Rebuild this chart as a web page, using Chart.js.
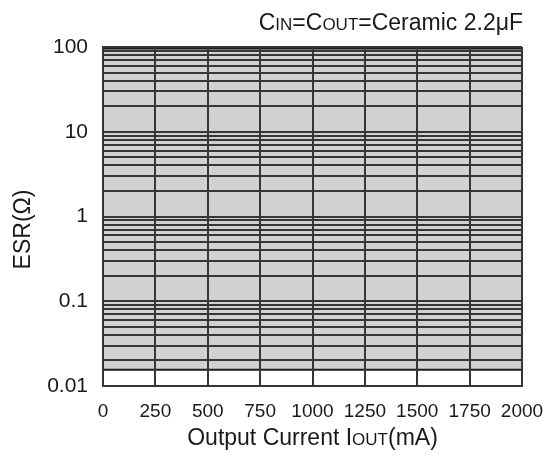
<!DOCTYPE html>
<html>
<head>
<meta charset="utf-8">
<script src="https://cdn.jsdelivr.net/npm/chart.js@4/dist/chart.umd.min.js"></script>
<style>
    html, body { margin: 0; padding: 0; background: #fff; }
</style>
</head>
<body>
<canvas id="esrChart" width="545" height="456"></canvas>
<script>
// stable region bounds
const currentMA = [0, 2000];
const esrUpper = [100, 100];
const esrLower = [0.016, 0.016];
// the two small square marks near the left edge
const markX = [10, 10];
const markY = [86, 0.081];
// axis ticks
const xTicks = [0, 250, 500, 750, 1000, 1250, 1500, 1750, 2000];
const yDecades = [0.01, 0.1, 1, 10, 100];
const yDecadeLabels = ["0.01", "0.1", "1", "10", "100"];
const yMinorSteps = [1, 2, 3, 4, 5, 6, 7, 8, 9];

const FONT = "'Liberation Sans', Arial, sans-serif";
const GRID = '#363636';
const FILL = '#d1d1d3';

// text with small-cap subscripts, drawn left to right from a start point
function drawRuns(ctx, runs, x, y, align, size) {
    var total = 0;
    runs.forEach(function (r) {
        ctx.font = (r.small ? Math.round(size * 0.74) : size) + 'px ' + FONT;
        r.w = ctx.measureText(r.t).width;
        total += r.w;
    });
    var cx = align == 'right' ? x - total : (align == 'center' ? x - total / 2 : x);
    ctx.textAlign = 'left';
    ctx.textBaseline = 'alphabetic';
    runs.forEach(function (r) {
        ctx.font = (r.small ? Math.round(size * 0.74) : size) + 'px ' + FONT;
        ctx.fillText(r.t, cx, y);
        cx += r.w;
    });
}

const titlesPlugin = {
    id: 'titles',
    afterDraw: function (chart) {
        var ctx = chart.ctx;
        var area = chart.chartArea;
        ctx.save();
        ctx.fillStyle = '#1a1a1a';
        drawRuns(ctx, [
            { t: 'C' }, { t: 'IN', small: true }, { t: '=C' }, { t: 'OUT', small: true }, { t: '=Ceramic 2.2\u03bcF' }
        ], area.right + 1, 30, 'right', 23);
        drawRuns(ctx, [
            { t: 'Output Current I' }, { t: 'OUT', small: true }, { t: '(mA)' }
        ], (area.left + area.right) / 2, 445, 'center', 23);
        ctx.translate(30, (area.top + area.bottom) / 2 + 13);
        ctx.rotate(-Math.PI / 2);
        drawRuns(ctx, [{ t: 'ESR(\u03a9)' }], 0, 0, 'center', 23);
        ctx.restore();
    }
};

function pts(xs, ys) {
    return xs.map(function (x, i) { return { x: x, y: ys[i] }; });
}

new Chart('esrChart', {
    type: 'line',
    data: {
        datasets: [
            {
                label: 'upper',
                data: pts(currentMA, esrUpper),
                borderColor: '#1c1c1c',
                borderWidth: 5,
                backgroundColor: FILL,
                fill: '+1',
                pointRadius: 0
            },
            {
                label: 'lower',
                data: pts(currentMA, esrLower),
                borderColor: '#1c1c1c',
                borderWidth: 4,
                fill: false,
                pointRadius: 0
            },
            {
                label: 'marks',
                data: pts(markX, markY),
                showLine: false,
                pointStyle: 'rect',
                pointRadius: 2.4,
                pointBackgroundColor: '#111',
                pointBorderWidth: 0
            }
        ]
    },
    options: {
        responsive: false,
        animation: false,
        devicePixelRatio: 1,
        layout: { padding: { top: 47, right: 23, left: 0, bottom: 0 } },
        plugins: {
            legend: { display: false },
            tooltip: { enabled: false }
        },
        scales: {
            x: {
                type: 'linear',
                min: 0,
                max: 2000,
                afterBuildTicks: function (scale) {
                    scale.ticks = xTicks.map(function (v) { return { value: v }; });
                },
                afterFit: function (scale) {
                    scale.height = 70;
                    scale.paddingLeft = 0;
                    scale.paddingRight = 0;
                },
                ticks: {
                    autoSkip: false,
                    maxRotation: 0,
                    padding: 14,
                    color: '#1a1a1a',
                    font: { family: FONT, size: 19 },
                    callback: function (value) { return String(value); }
                },
                grid: { color: GRID, lineWidth: 2, drawTicks: false, z: 1 },
                border: { color: GRID, width: 2, z: 1 }
            },
            y: {
                type: 'logarithmic',
                min: 0.01,
                max: 100,
                afterBuildTicks: function (scale) {
                    var t = [];
                    yDecades.forEach(function (d, i) {
                        if (i == yDecades.length - 1) {
                            t.push({ value: d });
                            return;
                        }
                        yMinorSteps.forEach(function (m) {
                            t.push({ value: +(d * m).toPrecision(3) });
                        });
                    });
                    scale.ticks = t;
                },
                afterFit: function (scale) {
                    scale.width = 103;
                    scale.paddingTop = 0;
                    scale.paddingBottom = 0;
                },
                ticks: {
                    autoSkip: false,
                    padding: 15,
                    color: '#1a1a1a',
                    font: { family: FONT, size: 21 },
                    callback: function (value) {
                        var i = yDecades.indexOf(value);
                        return i >= 0 ? yDecadeLabels[i] : '';
                    }
                },
                grid: { color: GRID, lineWidth: 2, drawTicks: false, z: 1 },
                border: { color: GRID, width: 2, z: 1 }
            }
        }
    },
    plugins: [titlesPlugin]
});
</script>
</body>
</html>
